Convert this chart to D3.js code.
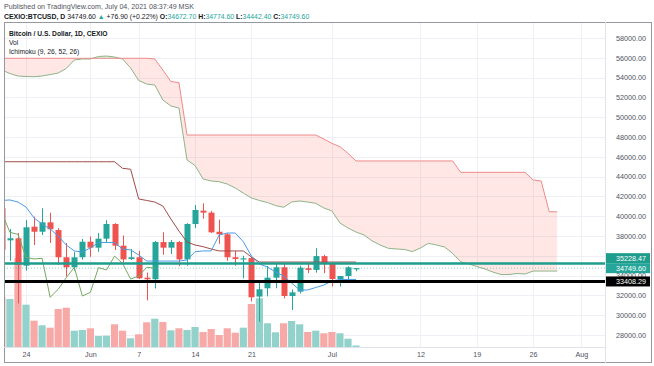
<!DOCTYPE html>
<html><head><meta charset="utf-8">
<script src="https://cdn.jsdelivr.net/npm/d3@7"></script>
<style>
body{margin:0;background:#fff;}
svg{display:block;font-family:"Liberation Sans",Arial,sans-serif;}
</style>
</head><body>
<svg id="c" width="654" height="366"></svg>
<script>
// ---------- DATA ----------
const candleDates = ["2021-05-21","2021-05-22","2021-05-23","2021-05-24","2021-05-25","2021-05-26","2021-05-27","2021-05-28","2021-05-29","2021-05-30","2021-05-31",
"2021-06-01","2021-06-02","2021-06-03","2021-06-04","2021-06-05","2021-06-06","2021-06-07","2021-06-08","2021-06-09","2021-06-10",
"2021-06-11","2021-06-12","2021-06-13","2021-06-14","2021-06-15","2021-06-16","2021-06-17","2021-06-18","2021-06-19","2021-06-20",
"2021-06-21","2021-06-22","2021-06-23","2021-06-24","2021-06-25","2021-06-26","2021-06-27","2021-06-28","2021-06-29","2021-06-30",
"2021-07-01","2021-07-02","2021-07-03","2021-07-04"];
const openP = [40800,37560,37770,35000,38940,38430,39380,38600,35850,34840,35850,
37420,36820,37730,39210,37020,35670,35850,33790,33630,37390,
36820,37390,35640,39210,40560,40360,38430,38170,35850,35670,
35770,31880,32720,33790,34840,31940,32380,34740,34570,35970,
35230,33650,33960,34672.7];
const highP = [42000,38700,38300,39600,39950,40800,40350,38800,37300,36400,37700,
37950,38300,39600,39300,38050,36690,36500,34300,37500,38370,
37600,37500,39300,41130,41300,40550,39650,38300,36500,36000,
35900,33300,34970,35200,35300,32600,35000,35250,36760,36100,
35300,33960,34950,34774.6];
const lowP = [35000,35500,31200,34500,37090,38100,37300,35070,33900,34500,35600,
35900,36400,37300,36590,35300,35580,33650,31500,32700,36100,
36180,34950,35000,38800,39750,38300,37200,35500,35000,33730,
31400,29340,31900,32720,31700,30530,32200,34250,34300,34250,
32900,32900,33250,34442.4];
const closeP = [36600,37770,35070,38880,38430,39380,38680,35850,34840,35850,37420,
36820,37730,39210,37020,35640,35850,33730,33630,37390,36820,
37390,35640,39210,40630,40360,38370,38170,35850,35680,35750,
31810,32620,33790,34840,31940,32310,34800,34570,35970,35230,
33650,33960,34840,34749.6];
const volume = [5000,4800,8900,4230,2630,2170,1930,3800,3930,1630,1700,
1870,1100,1130,2270,1630,870,1270,2470,2830,2500,
1670,1870,1700,2000,1500,1800,1200,1870,1430,1930,
4300,4870,2370,1470,2370,2600,2270,1500,1630,1370,
1500,1370,830,150];

// Ichimoku series (start 2021-05-20, one value per day)
const lineStart = "2021-05-20";
const conversionLine = [41640,41590,41640,41430,40930,39820,39210,38710,38000,37090,
36490,36380,36790,37340,37340,37340,36690,36590,36080,35470,
35470,35470,35470,35470,35580,36410,36490,36490,38100,38300,
38300,37420,35980,35170,34870,34360,33960,33250,32550,32550,
32800,33050,33450,33610,33610,33610];
const baseLine = [45500,45500,45500,45500,45500,45500,45500,45500,45500,45500,
45500,45500,45500,45500,45500,45500,44840,44740,41740,41590,
41430,41030,39720,38500,37390,37090,36920,36690,36490,36490,
36490,36490,35880,35370,35370,35370,35370,35370,35370,35370,
35370,35370,35370,35370,35370,35370];
const laggingSpan = [40630,40360,38370,38170,35850,35680,35750,31810,32620,33790,
34840,31940,32310,34800,34570,35970,35230,33650,33960,34840,34749.6];
const leadSpanA = [54970,54770,54410,54160,54110,54090,54160,54310,54460,54920,
55780,55880,55880,56130,56180,56080,55880,54970,53710,53350,
53250,51740,51130,50930,45680,45120,43760,43560,43480,43250,
42850,42340,41840,41590,41380,41080,40900,41430,41540,41430,
41300,40830,40530,39310,38810,38400,38100,37500,37090,36760,
36690,36640,36430,36790,37260,37090,36890,36250,35400,35170,
34920,34670,34360,34110,34110,34210,34160,34460,34460,34460,34460];
const leadSpanB = [55950,55950,55950,55950,55950,55950,55950,55950,55950,55950,
55950,55950,55950,55950,55950,55950,55950,55950,55950,55950,
55880,54770,53610,53490,48200,48200,48200,48200,48200,48200,
48200,48200,48200,48200,48200,48200,48200,48200,48200,48200,
48200,47800,47360,47020,46350,45580,45580,45580,45580,45580,
45580,45580,45580,45580,45580,45580,45580,45580,44430,44430,
44430,44430,44430,44430,44430,44430,44430,43660,43560,40450,40450];

const hLineTeal = 35228.47;
const hLineBlack = 33408.29;
const lastPrice = 34749.60;

const priceTicks = [28000,30000,32000,34000,36000,38000,40000,42000,44000,46000,48000,50000,52000,54000,56000,58000];
const timeTickDates = ["2021-05-24","2021-06-01","2021-06-07","2021-06-14","2021-06-21","2021-07-01","2021-07-12","2021-07-19","2021-07-26","2021-08-01"];
const timeTickLabels = ["24","Jun","7","14","21","Jul","12","19","26","Aug"];

// ---------- SETUP ----------
const parse = d3.utcParse("%Y-%m-%d");
const DAY = 864e5;
const ref = parse("2021-05-24").getTime();
const L = 4, R = 605, T = 22, B = 347;
const x = d3.scaleUtc().domain([new Date(ref - 2.733*DAY), new Date(ref + 71.93*DAY)]).range([L, R]);
const y = d3.scaleLinear().domain([26788, 59616]).range([B, T]);
const vH = d3.scaleLinear().domain([0, 10000]).range([0, 100]);

const UP = "#26a69a", DN = "#ef5350";
const svg = d3.select("#c");

const candles = candleDates.map((s,i)=>({d:parse(s),o:openP[i],h:highP[i],l:lowP[i],c:closeP[i],v:volume[i]}));
const ls = parse(lineStart);
const seq = (arr) => arr.map((v,i)=>({d:d3.utcDay.offset(ls,i), v}));
const lead = leadSpanA.map((a,i)=>({d:d3.utcDay.offset(ls,i), a, b:leadSpanB[i]}));

const defs = svg.append("defs");
defs.append("clipPath").attr("id","plot")
  .append("rect").attr("x",L).attr("y",T).attr("width",R-L).attr("height",B-T);

// header
const hdr = svg.append("g").attr("font-size",7.1).attr("fill","#50535e");
hdr.append("text").attr("x",4).attr("y",9).text("Published on TradingView.com, July 04, 2021 08:37:49 MSK");
const t2 = hdr.append("text").attr("x",4).attr("y",18.5).attr("font-size",6.9).attr("fill","#131722");
const parts = [["CEXIO:BTCUSD, D ","#131722",700],["34749.60 ","#131722",400],["▲","#26a69a",400],[" +76.90 (+0.22%) ","#131722",400],
 ["O:","#131722",700],["34672.70","#26a69a",400],[" H:","#131722",700],["34774.60","#26a69a",400],[" L:","#131722",700],["34442.40","#26a69a",400],[" C:","#131722",700],["34749.60","#26a69a",400]];
parts.forEach(p=>t2.append("tspan").attr("fill",p[1]).attr("font-weight",p[2]).text(p[0]));

// grid
const grid = svg.append("g").attr("stroke","#eef0f5").attr("stroke-width",1);
priceTicks.forEach(p=>grid.append("line").attr("x1",L).attr("x2",R).attr("y1",Math.round(y(p))+0.5).attr("y2",Math.round(y(p))+0.5));
timeTickDates.forEach(s=>grid.append("line").attr("y1",T).attr("y2",B).attr("x1",Math.round(x(parse(s)))+0.5).attr("x2",Math.round(x(parse(s)))+0.5));

const plot = svg.append("g").attr("clip-path","url(#plot)");

// volume
plot.append("g").selectAll("rect").data(candles).join("rect")
  .attr("x",d=>x(d.d)-3.6).attr("width",7.2)
  .attr("y",d=>B-vH(d.v)).attr("height",d=>vH(d.v))
  .attr("fill",d=>d.c>=d.o?"#93d2cb":"#f7a9a7");

// cloud
const band = d3.area().x(d=>x(d.d)).y0(d=>y(d.a)).y1(d=>y(d.b));
defs.append("clipPath").attr("id","aboveA").append("path")
  .attr("d", d3.area().x(d=>x(d.d)).y0(T).y1(d=>y(d.a))(lead));
defs.append("clipPath").attr("id","belowA").append("path")
  .attr("d", d3.area().x(d=>x(d.d)).y0(d=>y(d.a)).y1(B)(lead));
plot.append("path").attr("d",band(lead)).attr("fill","rgba(244,67,54,0.13)").attr("clip-path","url(#aboveA)");
plot.append("path").attr("d",band(lead)).attr("fill","rgba(67,160,71,0.18)").attr("clip-path","url(#belowA)");

const line = d3.line().x(d=>x(d.d)).y(d=>y(d.v));
plot.append("path").attr("d",line(lead.map(d=>({d:d.d,v:d.a})))).attr("fill","none").attr("stroke","#8fb487").attr("stroke-width",1);
plot.append("path").attr("d",line(lead.map(d=>({d:d.d,v:d.b})))).attr("fill","none").attr("stroke","#ee8a8a").attr("stroke-width",1);

// candles
const cg = plot.append("g");
cg.selectAll("line").data(candles).join("line")
  .attr("x1",d=>Math.round(x(d.d))+0.5).attr("x2",d=>Math.round(x(d.d))+0.5)
  .attr("y1",d=>y(d.h)).attr("y2",d=>y(d.l))
  .attr("stroke",d=>d.c>=d.o?UP:DN).attr("stroke-width",1);
cg.selectAll("rect").data(candles).join("rect")
  .attr("x",d=>Math.round(x(d.d))-2.5).attr("width",6)
  .attr("y",d=>y(Math.max(d.o,d.c))).attr("height",d=>Math.max(1.2,Math.abs(y(d.o)-y(d.c))))
  .attr("fill",d=>d.c>=d.o?UP:DN);

// ichimoku lines
plot.append("path").attr("d",line(seq(laggingSpan))).attr("fill","none").attr("stroke","#77a862").attr("stroke-width",1);
plot.append("path").attr("d",line(seq(baseLine))).attr("fill","none").attr("stroke","#a04c48").attr("stroke-width",1);
plot.append("path").attr("d",line(seq(conversionLine))).attr("fill","none").attr("stroke","#4a9be6").attr("stroke-width",1);

// last price dotted line
plot.append("line").attr("x1",L).attr("x2",R).attr("y1",y(lastPrice)).attr("y2",y(lastPrice))
  .attr("stroke","#26a69a").attr("stroke-opacity",0.5).attr("stroke-dasharray","1,2");

// horizontal drawings
plot.append("line").attr("x1",L).attr("x2",R).attr("y1",y(hLineTeal)).attr("y2",y(hLineTeal))
  .attr("stroke","#1e9c8c").attr("stroke-width",2.6);
plot.append("line").attr("x1",L).attr("x2",R).attr("y1",y(hLineBlack)).attr("y2",y(hLineBlack))
  .attr("stroke","#000").attr("stroke-width",3);

// legend
const lg = svg.append("g").attr("font-size",6.7).attr("fill","#131722");
lg.append("text").attr("x",9).attr("y",36).attr("font-weight",700).text("Bitcoin / U.S. Dollar, 1D, CEXIO");
lg.append("text").attr("x",9).attr("y",45).text("Vol");
lg.append("text").attr("x",9).attr("y",54).text("Ichimoku (9, 26, 52, 26)");

// axes (34000/36000 sit under the price boxes, as in the reference; drawn small so they peek out)
const yAxis = svg.append("g").attr("transform",`translate(${R+11},0)`)
  .call(d3.axisRight(y).tickValues(priceTicks).tickFormat(d3.format(".2f")).tickSize(0).tickPadding(0));
yAxis.select(".domain").remove();
yAxis.selectAll("text").attr("font-size",7.2).attr("fill","#50535e").attr("font-family","Liberation Sans, Arial, sans-serif");

const xAxis = svg.append("g").attr("transform",`translate(0,${B+5})`)
  .call(d3.axisBottom(x).tickValues(timeTickDates.map(parse)).tickFormat((d,i)=>timeTickLabels[i]).tickSize(0).tickPadding(0));
xAxis.select(".domain").remove();
xAxis.selectAll("text").attr("font-size",7.2).attr("fill","#50535e").attr("font-family","Liberation Sans, Arial, sans-serif");

// price labels on axis
function priceBox(p, cy, bg){
  const g = svg.append("g");
  g.append("rect").attr("x",R+1).attr("y",cy-5).attr("width",44).attr("height",10).attr("fill",bg);
  g.append("text").attr("x",R+11).attr("y",cy+2.6).attr("font-size",7.2).attr("fill","#fff").text(d3.format(".2f")(p));
}
priceBox(hLineTeal, y(lastPrice)-10, "#1e9c8c");
priceBox(lastPrice, y(lastPrice), "#26a69a");
priceBox(hLineBlack, y(hLineBlack), "#000");

// frame
svg.append("rect").attr("x",4.5).attr("y",22.5).attr("width",647).attr("height",340).attr("fill","none").attr("stroke","#9598a1").attr("stroke-width",1);
svg.append("line").attr("x1",R+0.5).attr("x2",R+0.5).attr("y1",T).attr("y2",363).attr("stroke","#e0e3eb");
svg.append("line").attr("x1",L).attr("x2",R).attr("y1",B+0.5).attr("y2",B+0.5).attr("stroke","#e0e3eb");
</script>
</body></html>
